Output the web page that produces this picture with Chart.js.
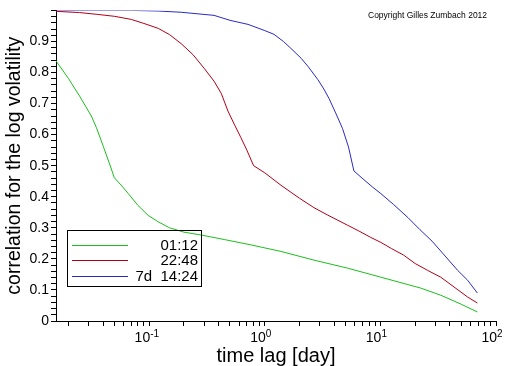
<!DOCTYPE html>
<html>
<head>
<meta charset="utf-8">
<script src="https://cdn.jsdelivr.net/npm/chart.js@4"></script>
<style>
  html, body { margin: 0; padding: 0; background: #fff; }
  canvas { display: block; }
</style>
</head>
<body>
<canvas id="chart" width="512" height="366"></canvas>
<script>
// Values: time lag in days, correlation
const lag0112 = [0.0156, 0.02, 0.025, 0.0316, 0.035, 0.04, 0.045, 0.05, 0.057, 0.066, 0.08, 0.098, 0.12, 0.15, 0.2, 0.28, 0.45, 0.76, 1.38, 2.66, 5.22, 10.1, 22.3, 33.3, 50, 69];
const corr0112 = [0.838, 0.781, 0.724, 0.66, 0.622, 0.563, 0.51, 0.461, 0.438, 0.41, 0.372, 0.34, 0.319, 0.3, 0.286, 0.277, 0.262, 0.245, 0.224, 0.196, 0.17, 0.141, 0.106, 0.083, 0.054, 0.029];

const lag2248 = [0.0156, 0.025, 0.036, 0.05, 0.07, 0.09, 0.12, 0.15, 0.189, 0.24, 0.298, 0.364, 0.42, 0.48, 0.55, 0.622, 0.7, 0.8, 1.0, 1.38, 2.0, 2.66, 3.5, 5.22, 6.5, 8.26, 10.1, 12.5, 15.9, 20, 25.6, 33.3, 45, 56.9, 69];
const corr2248 = [0.997, 0.993, 0.987, 0.981, 0.971, 0.958, 0.942, 0.922, 0.893, 0.857, 0.814, 0.772, 0.733, 0.676, 0.63, 0.59, 0.55, 0.5, 0.477, 0.437, 0.395, 0.365, 0.341, 0.308, 0.29, 0.269, 0.253, 0.233, 0.212, 0.185, 0.163, 0.141, 0.105, 0.077, 0.058];

const lag7d = [0.0156, 0.03, 0.07, 0.12, 0.189, 0.364, 0.5, 0.716, 1.0, 1.2, 1.45, 1.68, 2.06, 2.36, 2.88, 3.24, 3.6, 4.1, 4.7, 5.3, 5.9, 7.2, 8.5, 10.1, 13, 17.3, 22, 28, 35, 46.6, 56.9, 69];
const corr7d = [0.999, 1.0, 1.0, 0.998, 0.994, 0.984, 0.968, 0.955, 0.935, 0.923, 0.9, 0.878, 0.846, 0.82, 0.777, 0.747, 0.716, 0.67, 0.62, 0.56, 0.483, 0.455, 0.432, 0.41, 0.375, 0.333, 0.294, 0.257, 0.216, 0.163, 0.131, 0.09];

const seriesLabels = ['01:12', '22:48', '7d  14:24'];
const seriesColors = ['#1cbf1c', '#b00018', '#2a2ac4'];

// Axis ticks
const xDecades = [0.1, 1, 10, 100];
const xDecadeExp = ['-1', '0', '1', '2'];
const xTickValues = [0.02, 0.03, 0.04, 0.05, 0.06, 0.07, 0.08, 0.09,
    0.1, 0.2, 0.3, 0.4, 0.5, 0.6, 0.7, 0.8, 0.9,
    1, 2, 3, 4, 5, 6, 7, 8, 9,
    10, 20, 30, 40, 50, 60, 70, 80, 90, 100];
const yTickValues = Array.from({ length: 51 }, (_, i) => i / 50);

const FONT = '"Liberation Sans", Arial, Helvetica, sans-serif';

function pairs(xs, ys) {
    return xs.map((x, i) => ({ x: x, y: ys[i] }));
}

// boxed legend, lower left
const boxLegend = {
    id: 'boxLegend',
    afterDraw(chart) {
        const c = chart.ctx;
        c.save();
        c.strokeStyle = '#000';
        c.lineWidth = 1;
        c.strokeRect(67.5, 230.5, 134, 56);
        c.font = '15px ' + FONT;
        c.textAlign = 'right';
        c.textBaseline = 'alphabetic';
        chart.data.datasets.forEach((ds, i) => {
            const y = Math.round(245 + i * 15.3) + 0.5;
            c.strokeStyle = ds.borderColor;
            c.beginPath();
            c.moveTo(72, y);
            c.lineTo(128, y);
            c.stroke();
            c.fillStyle = '#000';
            c.fillText(ds.label, 198, y + 4.5);
        });
        c.restore();
    }
};

// 10^n labels under the x axis
const decadeLabels = {
    id: 'decadeLabels',
    afterDraw(chart) {
        const c = chart.ctx;
        const sx = chart.scales.x;
        c.save();
        c.fillStyle = '#000';
        xDecades.forEach((v, i) => {
            const x = sx.getPixelForValue(v);
            c.font = '14px ' + FONT;
            c.textAlign = 'right';
            c.fillText('10', x + 1, 342);
            c.font = '10px ' + FONT;
            c.textAlign = 'left';
            c.fillText(xDecadeExp[i], x + 1, 337);
        });
        c.restore();
    }
};

const copyright = {
    id: 'copyright',
    afterDraw(chart) {
        const c = chart.ctx;
        c.save();
        c.fillStyle = '#000';
        c.font = '8.5px ' + FONT;
        c.textAlign = 'left';
        c.fillText('Copyright Gilles Zumbach 2012', 368, 18);
        c.restore();
    }
};

const chart = new Chart(document.getElementById('chart'), {
    type: 'line',
    data: {
        datasets: [
            { label: seriesLabels[0], data: pairs(lag0112, corr0112), borderColor: seriesColors[0] },
            { label: seriesLabels[1], data: pairs(lag2248, corr2248), borderColor: seriesColors[1] },
            { label: seriesLabels[2], data: pairs(lag7d, corr7d), borderColor: seriesColors[2] }
        ]
    },
    options: {
        responsive: false,
        animation: false,
        datasets: {
            line: { borderWidth: 1, pointRadius: 0, tension: 0, fill: false }
        },
        layout: { padding: { left: 0, top: 9, right: 16, bottom: 0 } },
        plugins: {
            legend: { display: false },
            tooltip: { enabled: false }
        },
        scales: {
            x: {
                type: 'logarithmic',
                min: 0.015625,
                max: 100,
                afterBuildTicks: s => { s.ticks = xTickValues.map(v => ({ value: v })); },
                afterFit: s => { s.height = 45; },
                grid: { drawOnChartArea: false, tickLength: 5, tickColor: '#000' },
                border: { color: '#000', width: 1 },
                ticks: { autoSkip: false, maxRotation: 0, callback: () => '' },
                title: {
                    display: true,
                    text: 'time lag [day]',
                    color: '#000',
                    font: { family: FONT, size: 20, lineHeight: 1 },
                    padding: { top: 0, bottom: 0 }
                }
            },
            y: {
                min: 0,
                max: 1,
                afterBuildTicks: s => { s.ticks = yTickValues.map(v => ({ value: v })); },
                afterFit: s => { s.width = 56; },
                grid: { drawOnChartArea: false, tickLength: 5, tickColor: '#000' },
                border: { color: '#000', width: 1 },
                ticks: {
                    autoSkip: false,
                    padding: 2,
                    color: '#000',
                    font: { family: FONT, size: 14 },
                    callback: v => {
                        const k = Math.round(v * 50);
                        if (k % 5 !== 0 || k === 50) return '';
                        return k === 0 ? '0' : (k / 50).toFixed(1);
                    }
                },
                title: {
                    display: true,
                    text: 'correlation for the log volatility',
                    color: '#000',
                    font: { family: FONT, size: 19.5, lineHeight: 1 },
                    padding: { top: 5, bottom: 0 }
                }
            }
        }
    },
    plugins: [boxLegend, decadeLabels, copyright]
});
</script>
</body>
</html>
